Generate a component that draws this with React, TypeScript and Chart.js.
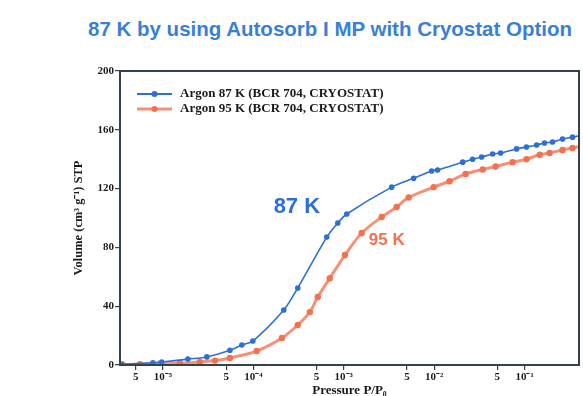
import React, { useEffect, useRef } from "react";
import { Chart, registerables } from "chart.js";

Chart.register(...registerables);

const titleText = "87 K by using Autosorb I MP with Cryostat Option";
const seriesLabels = ["Argon 87 K (BCR 704, CRYOSTAT)", "Argon 95 K (BCR 704, CRYOSTAT)"];
const seriesColors = ["#2c6fd6", "#f4704e"];

const pressure87 = [3.52e-6, 7.75e-6, 9.7e-6, 1.89e-5, 3.06e-5, 5.5e-5, 7.46e-5, 9.87e-5, 2.17e-4, 3.1e-4, 6.49e-4, 8.59e-4, 1.08e-3, 3.39e-3, 5.93e-3, 9.38e-3, 1.09e-2, 2.07e-2, 2.66e-2, 3.35e-2, 4.43e-2, 5.43e-2, 8.17e-2, 0.105, 0.136, 0.166, 0.204, 0.263, 0.339, 0.427];
const volume87 = [0.5, 1.5, 2, 4, 5.5, 10, 13.6, 16.3, 37.4, 52.4, 87, 96.6, 102.7, 121, 127, 132, 132.7, 138, 140, 141.5, 143.5, 144.2, 147, 148.3, 149.7, 151, 151.7, 153.7, 155, 156.5];

const pressure95 = [3.52e-6, 5.57e-6, 9.27e-6, 1.54e-5, 2.56e-5, 3.76e-5, 5.5e-5, 1.09e-4, 2.07e-4, 3.1e-4, 4.21e-4, 5.16e-4, 7.0e-4, 1.03e-3, 1.58e-3, 2.63e-3, 3.85e-3, 5.23e-3, 9.87e-3, 1.48e-2, 2.23e-2, 3.44e-2, 4.78e-2, 7.37e-2, 0.105, 0.147, 0.189, 0.263, 0.339, 0.432];
const volume95 = [0.3, 0.5, 0.8, 1.2, 2, 3, 4.8, 9.5, 18.4, 27.2, 36, 46.3, 59, 74.8, 89.8, 100.7, 107.5, 114, 121, 125, 130, 133, 135, 138, 140, 143, 144.2, 146.3, 147.6, 149];

const xTickValues = [5e-6, 1e-5, 5e-5, 1e-4, 5e-4, 1e-3, 5e-3, 1e-2, 5e-2, 1e-1];
const xTickLabels = ["5", "10\u207B\u2075", "5", "10\u207B\u2074", "5", "10\u207B\u00B3", "5", "10\u207B\u00B2", "5", "10\u207B\u00B9"];
const xMin = 3.35e-6;
const xMax = 0.4;
const yTicks = [0, 40, 80, 120, 160, 200];

const annotationTexts = ["87 K", "95 K"];
const annotationX = [3.03e-4, 2.99e-3];
const annotationY = [107.5, 85];

const SERIF = "'Liberation Serif', 'Times New Roman', serif";
const SANS = "'Liberation Sans', Arial, sans-serif";

export default function App() {
  const ref = useRef<HTMLCanvasElement | null>(null);

  useEffect(() => {
    if (!ref.current) return;

    const framePlugin = {
      id: "frame",
      afterDatasetsDraw(chart: any) {
        const { ctx, chartArea } = chart;
        ctx.save();
        ctx.strokeStyle = "#34434a";
        ctx.lineWidth = 2;
        ctx.strokeRect(chartArea.left, chartArea.top, chartArea.right - chartArea.left, chartArea.bottom - chartArea.top);
        ctx.restore();
      },
    };

    const legendPlugin = {
      id: "insideLegend",
      afterDraw(chart: any) {
        const { ctx, chartArea } = chart;
        ctx.save();
        chart.data.datasets.forEach((ds: any, i: number) => {
          const y = chartArea.top + 23 + i * 15;
          const x0 = chartArea.left + 17;
          const x1 = chartArea.left + 52;
          ctx.strokeStyle = ds.borderColor;
          ctx.lineWidth = i === 0 ? 2 : 3;
          ctx.beginPath();
          ctx.moveTo(x0, y);
          ctx.lineTo(x1, y);
          ctx.stroke();
          ctx.fillStyle = ds.pointBackgroundColor;
          ctx.beginPath();
          ctx.arc((x0 + x1) / 2, y, 3, 0, Math.PI * 2);
          ctx.fill();
          ctx.fillStyle = "#1a1a1a";
          ctx.font = `bold 13px ${SERIF}`;
          ctx.textBaseline = "middle";
          ctx.textAlign = "left";
          ctx.fillText(ds.label, chartArea.left + 60, y);
        });
        ctx.restore();
      },
    };

    const annotationPlugin = {
      id: "curveLabels",
      afterDraw(chart: any) {
        const { ctx, scales } = chart;
        ctx.save();
        ctx.textAlign = "center";
        ctx.textBaseline = "middle";
        annotationTexts.forEach((t, i) => {
          ctx.fillStyle = seriesColors[i];
          ctx.font = i === 0 ? `bold 22px ${SANS}` : `bold 17px ${SANS}`;
          ctx.fillText(t, scales.x.getPixelForValue(annotationX[i]), scales.y.getPixelForValue(annotationY[i]));
        });
        ctx.restore();
      },
    };

    const chart = new Chart(ref.current, {
      type: "line",
      data: {
        datasets: [
          {
            label: seriesLabels[0],
            data: pressure87.map((p, i) => ({ x: p, y: volume87[i] })),
            borderColor: seriesColors[0],
            backgroundColor: seriesColors[0],
            pointBackgroundColor: seriesColors[0],
            pointBorderWidth: 0,
            pointRadius: 2.8,
            borderWidth: 1.6,
            tension: 0.3,
          },
          {
            label: seriesLabels[1],
            data: pressure95.map((p, i) => ({ x: p, y: volume95[i] })),
            borderColor: "rgba(245,125,95,0.85)",
            backgroundColor: seriesColors[1],
            pointBackgroundColor: seriesColors[1],
            pointBorderWidth: 0,
            pointRadius: 3.2,
            borderWidth: 3,
            tension: 0.3,
          },
        ],
      },
      options: {
        animation: false,
        responsive: true,
        maintainAspectRatio: false,
        layout: { padding: { left: 68, top: 71, right: 1, bottom: 0 } },
        plugins: {
          legend: { display: false },
          tooltip: { enabled: false },
        },
        scales: {
          x: {
            type: "logarithmic",
            min: xMin,
            max: xMax,
            afterBuildTicks: (scale: any) => {
              scale.ticks = xTickValues.map((v) => ({ value: v }));
            },
            afterFit: (scale: any) => {
              scale.height = 31;
            },
            ticks: {
              autoSkip: false,
              maxRotation: 0,
              padding: 1,
              color: "#1a1a1a",
              font: { family: SERIF, size: 11, weight: "bold" },
              callback: (value: any) => {
                const idx = xTickValues.findIndex((v) => Math.abs(v - value) / v < 1e-6);
                return idx >= 0 ? xTickLabels[idx] : "";
              },
            },
            grid: { drawOnChartArea: false, drawTicks: true, tickLength: 5, color: "#34434a", lineWidth: 1.2 },
            border: { color: "#34434a", width: 2 },
            title: {
              display: true,
              text: "Pressure P/P\u2080",
              color: "#1a1a1a",
              font: { family: SERIF, size: 13, weight: "bold" },
              padding: { top: 0, bottom: -2 },
            },
          },
          y: {
            min: 0,
            max: 200,
            afterBuildTicks: (scale: any) => {
              scale.ticks = yTicks.map((v) => ({ value: v }));
            },
            afterFit: (scale: any) => {
              scale.width = 52;
            },
            ticks: {
              padding: 1,
              color: "#1a1a1a",
              font: { family: SERIF, size: 11, weight: "bold" },
            },
            grid: { drawOnChartArea: false, drawTicks: true, tickLength: 5, color: "#34434a", lineWidth: 1.2 },
            border: { color: "#34434a", width: 2 },
            title: {
              display: true,
              text: "Volume (cm\u00B3 g\u207B\u00B9) STP",
              color: "#1a1a1a",
              font: { family: SERIF, size: 12.5, weight: "bold" },
              padding: { top: 3, bottom: 4 },
            },
          },
        },
      },
      plugins: [framePlugin, legendPlugin, annotationPlugin],
    } as any);

    return () => chart.destroy();
  }, []);

  return (
    <div style={{ position: "absolute", left: 0, top: 0, width: 583, height: 396, background: "#ffffff" }}>
      <div
        style={{
          position: "absolute",
          left: 88,
          top: 17,
          font: `bold 20.5px ${SANS}`,
          color: "#3a7fd6",
          whiteSpace: "nowrap",
        }}
      >
        {titleText}
      </div>
      <div style={{ position: "absolute", left: 0, top: 0, width: 583, height: 396 }}>
        <canvas ref={ref} />
      </div>
    </div>
  );
}
